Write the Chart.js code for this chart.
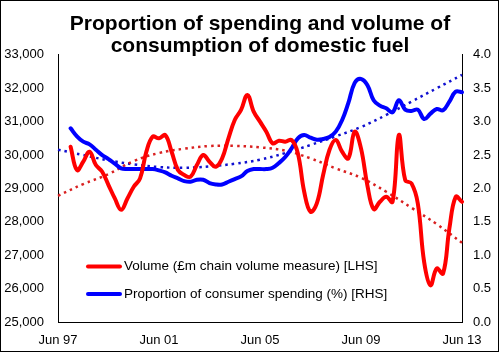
<!DOCTYPE html>
<html>
<head>
<meta charset="utf-8">
<script src="https://cdn.jsdelivr.net/npm/chart.js@4/dist/chart.umd.min.js"></script>
<style>
  html, body { margin: 0; padding: 0; background: #fff; }
  #wrap { width: 499px; height: 352px; position: relative; }
</style>
</head>
<body>
<div id="wrap"><canvas id="c" width="499" height="352"></canvas></div>
<script>
// ---- Data ----
const titleLines = ['Proportion of spending and volume of', 'consumption of domestic fuel'];
const tickLabels = ['Jun 97', 'Jun 01', 'Jun 05', 'Jun 09', 'Jun 13'];
const seriesNames = ['Volume (\u00A3m chain volume measure) [LHS]', 'Proportion of consumer spending (%) [RHS]'];

// quarterly categories Jun 97 .. Jun 13
const monthNames = ['Jun', 'Sep', 'Dec', 'Mar'];
const quarters = [];
for (let i = 0; i <= 64; i++) {
  const yr = 1997 + Math.floor((i + 2) / 4);
  quarters.push(monthNames[i % 4] + ' ' + String(yr % 100).padStart(2, '0'));
}

// Volume (£m chain volume measure), LHS
const volume = [null, null,
  30250, 29550, 29800, 30100, 29700, 29500, 29100, 28700, 28360, 28700,
  29050, 29300, 30100, 30550, 30500, 30600, 30100, 29550, 29400, 29350,
  29700, 30000, 29800, 29650, 29900, 30500, 31050, 31350, 31800, 31300,
  31000, 30700, 30350, 30430, 30400, 30450, 30050, 28900, 28300, 28550,
  29400, 30150, 30450, 30100, 29900, 30700, 30200, 29100, 28380, 28600,
  28750, 28600, 30600, 29250, 29150, 28550, 26800, 26100, 26600, 26450,
  27800, 28750, 28600];

// Proportion of consumer spending (%), RHS
const share = [null, null,
  2.90, 2.78, 2.70, 2.66, 2.58, 2.50, 2.44, 2.37, 2.30, 2.29,
  2.29, 2.29, 2.29, 2.29, 2.27, 2.24, 2.19, 2.15, 2.11, 2.10,
  2.13, 2.13, 2.08, 2.06, 2.06, 2.10, 2.14, 2.18, 2.26, 2.29,
  2.29, 2.29, 2.31, 2.38, 2.47, 2.60, 2.75, 2.80, 2.76, 2.73,
  2.74, 2.77, 2.85, 3.02, 3.28, 3.58, 3.64, 3.55, 3.32, 3.24,
  3.20, 3.14, 3.32, 3.18, 3.16, 3.18, 3.04, 3.12, 3.19, 3.17,
  3.30, 3.45, 3.44];

// Trend lines (dotted), read at each June
const trendAt = ['Jun 97','Jun 98','Jun 99','Jun 00','Jun 01','Jun 02','Jun 03','Jun 04','Jun 05',
                 'Jun 06','Jun 07','Jun 08','Jun 09','Jun 10','Jun 11','Jun 12','Jun 13'];
const volumeTrend = [28780, 29130, 29430, 29820, 30060, 30190, 30270, 30275, 30230,
                     30130, 29900, 29600, 29320, 28900, 28420, 27930, 27370];
const shareTrend = [2.58, 2.50, 2.42, 2.36, 2.32, 2.31, 2.33, 2.37, 2.43,
                    2.53, 2.65, 2.78, 2.92, 3.10, 3.30, 3.50, 3.70];

const RED = '#FF0000', BLUE = '#0000FF';
const FONT = '"Liberation Sans", Arial, sans-serif';

const legendPlugin = {
  id: 'insideLegend',
  afterDraw(chart) {
    const ctx = chart.ctx;
    ctx.save();
    const rows = [{ c: RED, t: seriesNames[0], y: 266.5 }, { c: BLUE, t: seriesNames[1], y: 294 }];
    rows.forEach(r => {
      ctx.strokeStyle = r.c; ctx.lineWidth = 4; ctx.lineCap = 'round';
      ctx.beginPath(); ctx.moveTo(88, r.y); ctx.lineTo(120, r.y); ctx.stroke();
      ctx.fillStyle = '#000'; ctx.font = '13.5px ' + FONT; ctx.textBaseline = 'middle'; ctx.textAlign = 'left';
      ctx.fillText(r.t, 124, r.y);
    });
    // outer frame
    ctx.strokeStyle = '#000'; ctx.lineWidth = 1; ctx.lineCap = 'butt';
    ctx.strokeRect(0.5, 0.5, 498, 351);
    ctx.restore();
  }
};

new Chart(document.getElementById('c'), {
  type: 'line',
  data: {
    labels: quarters,
    datasets: [
      { label: seriesNames[0], data: volume, yAxisID: 'y', borderColor: RED, borderWidth: 4,
        pointRadius: 0, tension: 0.4, borderCapStyle: 'round', borderJoinStyle: 'round' },
      { label: seriesNames[1], data: share, yAxisID: 'y1', borderColor: BLUE, borderWidth: 4,
        pointRadius: 0, tension: 0.4, borderCapStyle: 'round', borderJoinStyle: 'round' },
      { label: 'Volume trend', data: trendAt.map((q, i) => ({ x: q, y: volumeTrend[i] })), yAxisID: 'y',
        borderColor: '#D92020', borderWidth: 2.5, borderDash: [2.5, 4], borderCapStyle: 'butt',
        pointRadius: 0, tension: 0.4 },
      { label: 'Share trend', data: trendAt.map((q, i) => ({ x: q, y: shareTrend[i] })), yAxisID: 'y1',
        borderColor: '#1010D0', borderWidth: 2.5, borderDash: [2.5, 4], borderCapStyle: 'butt',
        pointRadius: 0, tension: 0.4 }
    ]
  },
  options: {
    responsive: false,
    animation: false,
    layout: { padding: { left: 0, right: 0, top: 0, bottom: 0 } },
    plugins: {
      legend: { display: false },
      tooltip: { enabled: false },
      title: {
        display: true, text: titleLines, fullSize: false, color: '#000',
        font: { family: FONT, size: 21, weight: 'bold', lineHeight: 1.08 },
        padding: { top: 12.5, bottom: -3 }
      }
    },
    scales: {
      x: {
        type: 'category', offset: false,
        grid: { display: false, offset: false },
        border: { display: true, color: '#000', width: 1 },
        ticks: {
          autoSkip: false, maxRotation: 0, color: '#000', padding: 3,
          font: { family: FONT, size: 13 },
          callback: (v, i) => (tickLabels.includes(quarters[i]) ? quarters[i] : '')
        },
        afterFit: s => { s.height = 30; }
      },
      y: {
        position: 'left', min: 25000, max: 33000,
        grid: { display: false },
        border: { display: true, color: '#000', width: 1 },
        ticks: { stepSize: 1000, color: '#000', padding: 6, font: { family: FONT, size: 13 },
          callback: v => v.toLocaleString('en-US') },
        afterFit: s => { s.width = 58; }
      },
      y1: {
        position: 'right', min: 0, max: 4,
        grid: { display: false },
        border: { display: true, color: '#000', width: 1 },
        ticks: { stepSize: 0.5, color: '#000', padding: 3, font: { family: FONT, size: 13 },
          callback: v => v.toFixed(1) },
        afterFit: s => { s.width = 37; }
      }
    }
  },
  plugins: [legendPlugin]
});
</script>
</body>
</html>
